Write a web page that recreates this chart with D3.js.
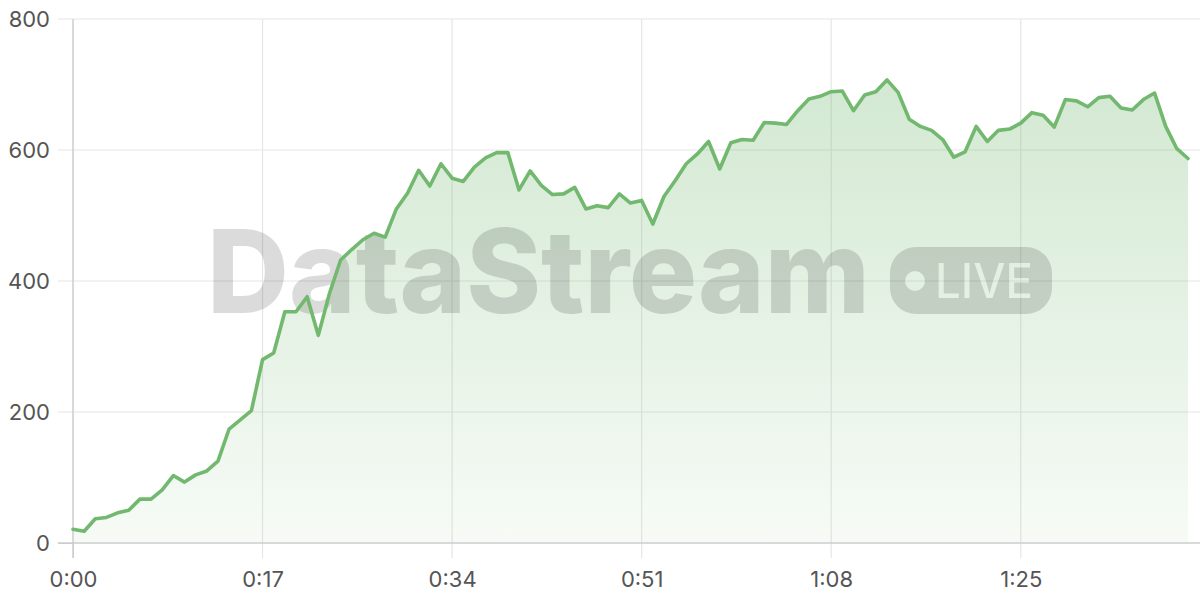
<!DOCTYPE html>
<html>
<head>
<meta charset="utf-8">
<script src="https://cdn.jsdelivr.net/npm/d3@7"></script>
<style>
  html, body { margin: 0; padding: 0; background: #fff; }
  svg { display: block; }
  .tick text { font-family: Inter, "Noto Sans", sans-serif; }
</style>
</head>
<body>
<svg id="chart" width="1200" height="600"></svg>
<script>
// ---- data ----
const seconds = d3.range(0, 101);
const values = [
  21, 18, 37, 39, 46, 50, 67, 67, 81, 103,
  93, 104, 110, 125, 174, 188, 202, 280, 290, 353,
  353, 376, 317, 381, 432, 448, 463, 473, 467, 510,
  534, 569, 545, 579, 557, 552, 574, 588, 596, 596,
  539, 568, 546, 532, 533, 543, 510, 515, 512, 533,
  519, 523, 487, 529, 553, 579, 594, 613, 571, 611,
  616, 615, 642, 641, 639, 660, 678, 682, 689, 690,
  660, 684, 689, 707, 688, 647, 636, 630, 616, 589,
  597, 636, 613, 630, 632, 641, 657, 653, 635, 677,
  675, 666, 680, 682, 664, 661, 677, 687, 636, 602,
  587
];
const xTickValues = [0, 17, 34, 51, 68, 85];
const xTickLabels = ["0:00", "0:17", "0:34", "0:51", "1:08", "1:25"];
const yTickValues = [0, 200, 400, 600, 800];
const watermarkText = "DataStream";
const badgeText = "LIVE";

const data = seconds.map((s, i) => ({ s, v: values[i] }));

// ---- layout ----
const W = 1200, H = 600;
const margin = { top: 19, right: 12, bottom: 57, left: 73 };
const innerW = W - margin.left - margin.right;
const innerH = H - margin.top - margin.bottom;

const svg = d3.select("#chart");
const g = svg.append("g").attr("transform", `translate(${margin.left},${margin.top})`);

const x = d3.scaleLinear().domain([0, 100]).range([0, innerW]);
const y = d3.scaleLinear().domain([0, 800]).range([innerH, 0]);

const lineColor = "#72b86f";

// gradient
const defs = svg.append("defs");
const grad = defs.append("linearGradient")
  .attr("id", "areaGrad").attr("x1", 0).attr("x2", 0)
  .attr("gradientUnits", "userSpaceOnUse")
  .attr("y1", y(720)).attr("y2", y(0));
grad.append("stop").attr("offset", "0%").attr("stop-color", lineColor).attr("stop-opacity", 0.32);
grad.append("stop").attr("offset", "100%").attr("stop-color", lineColor).attr("stop-opacity", 0.06);

// mask for badge knockout
const mask = defs.append("mask").attr("id", "badgeMask");
mask.append("rect").attr("x", 0).attr("y", 0).attr("width", W).attr("height", H).attr("fill", "#fff");
mask.append("circle").attr("cx", 915).attr("cy", 281).attr("r", 10).attr("fill", "#000");
mask.append("text").attr("x", 935).attr("y", 298)
  .attr("font-family", "Inter, Roboto, sans-serif").attr("font-weight", 500)
  .attr("font-size", 48).attr("textLength", 98).attr("lengthAdjust", "spacingAndGlyphs")
  .attr("fill", "#000").text(badgeText);

// gridlines
const grid = g.append("g").attr("class", "grid");
grid.selectAll("line.h").data(yTickValues.filter(d => d !== 0)).join("line")
  .attr("x1", -15).attr("x2", W - margin.left)
  .attr("y1", d => y(d)).attr("y2", d => y(d))
  .attr("stroke", "#e6e6e6").attr("stroke-width", 1.2);
grid.selectAll("line.v").data(xTickValues.filter(d => d !== 0)).join("line")
  .attr("x1", d => x(d)).attr("x2", d => x(d))
  .attr("y1", 0).attr("y2", innerH + 15)
  .attr("stroke", "#e6e6e6").attr("stroke-width", 1.2);

// area
const area = d3.area().x(d => x(d.s)).y0(y(0)).y1(d => y(d.v));
const line = d3.line().x(d => x(d.s)).y(d => y(d.v));

g.append("path").datum(data).attr("d", area).attr("fill", "url(#areaGrad)");

// axes
const yAxis = g.append("g")
  .call(d3.axisLeft(y).tickValues(yTickValues).tickSize(15).tickPadding(8));
yAxis.select(".domain").remove();
yAxis.selectAll(".tick line").attr("stroke", d => d === 0 ? "#cccccc" : "none");
yAxis.selectAll(".tick text").attr("font-size", 22).attr("fill", "#555");

const xAxis = g.append("g").attr("transform", `translate(0,${innerH})`)
  .call(d3.axisBottom(x).tickValues(xTickValues).tickFormat((d, i) => xTickLabels[i]).tickSize(15).tickPadding(13));
xAxis.select(".domain").remove();
xAxis.selectAll(".tick line").attr("stroke", d => d === 0 ? "#cccccc" : "none");
xAxis.selectAll(".tick text").attr("font-size", 22).attr("fill", "#555");

// axis lines
g.append("line").attr("x1", 0).attr("x2", 0).attr("y1", 0).attr("y2", innerH + 15)
  .attr("stroke", "#cccccc").attr("stroke-width", 1.5);
g.append("line").attr("x1", -15).attr("x2", W - margin.left).attr("y1", innerH).attr("y2", innerH)
  .attr("stroke", "#cccccc").attr("stroke-width", 1.5);

// watermark (over area, under line)
const wmColor = "rgba(0,0,0,0.14)";
const wm = svg.append("g").attr("class", "watermark");
wm.append("text")
  .attr("x", 207).attr("y", 313)
  .attr("font-family", "Inter, Roboto, sans-serif")
  .attr("font-weight", 800)
  .attr("font-size", 116)
  .attr("textLength", 663).attr("lengthAdjust", "spacingAndGlyphs")
  .attr("fill", wmColor)
  .text(watermarkText);
wm.append("rect")
  .attr("x", 890).attr("y", 247).attr("width", 162).attr("height", 67).attr("rx", 26)
  .attr("fill", wmColor).attr("mask", "url(#badgeMask)");

// line on top
const lineLayer = svg.append("g").attr("transform", `translate(${margin.left},${margin.top})`);
lineLayer.append("path").datum(data).attr("d", line)
  .attr("fill", "none").attr("stroke", lineColor).attr("stroke-width", 3.6)
  .attr("stroke-linejoin", "round").attr("stroke-linecap", "round");
</script>
</body>
</html>
